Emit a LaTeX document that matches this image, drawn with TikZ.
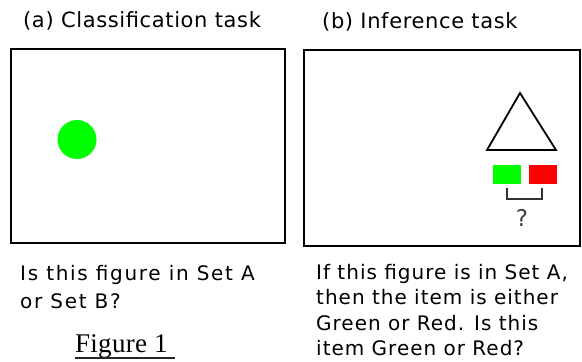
\documentclass[tikz,border=0pt]{standalone}
\usepackage{fontspec}
\setmainfont{Liberation Serif}
\newfontfamily\titlefont[LetterSpace=3]{DejaVu Sans}
\newfontfamily\bodyfont[LetterSpace=5]{DejaVu Sans}
\newfontfamily\bodyfontwide[LetterSpace=8.5]{DejaVu Sans}
\newfontfamily\figfont[LetterSpace=1]{Liberation Serif}
\begin{document}
\begin{tikzpicture}[x=1pt,y=-1pt]
\useasboundingbox[fill=white] (0,0) rectangle (582,362);
\tikzset{
  panel/.style={draw=black, line width=2.2pt},
  lbl/.style={inner sep=0pt, align=left},
  swatch/.style={draw=none, minimum width=28pt, minimum height=19pt, inner sep=0pt}
}
% titles
\node[lbl, anchor=west, font=\titlefont\fontsize{21}{25}\selectfont] (ta) at (23,21) {(a) Classification task};
\node[lbl, anchor=west, font=\titlefont\fontsize{21}{25}\selectfont] (tb) at (322,22) {(b) Inference task};
% panels
\node[panel, minimum width=274pt, minimum height=194pt, anchor=north west, inner sep=0pt] (pa) at (10,48) {};
\node[panel, minimum width=276pt, minimum height=196pt, anchor=north west, inner sep=0pt] (pb) at (303,49) {};
% green circle
\node[circle, fill=green, draw=none, minimum size=39pt, inner sep=0pt] (dot) at (77,139.5) {};
% triangle
\coordinate (apex) at (520,93);
\coordinate (bl) at (487,150);
\coordinate (br) at (556,150);
\draw[line width=1.8pt, line join=miter] (apex) -- (bl) -- (br) -- cycle;
% swatches
\node[swatch, fill=green] (g) at (507,174.5) {};
\node[swatch, fill=red] (r) at (543,174.5) {};
% bracket
\coordinate (b1) at (507,188);
\coordinate (b2) at (507,199);
\coordinate (b3) at (542,199);
\coordinate (b4) at (542,188);
\draw[line width=1.8pt, black!80] (b1) -- (b2) -- (b3) -- (b4);
\node[font=\titlefont\fontsize{23}{25}\selectfont, text=black!75, inner sep=0pt] (q) at (522,218) {?};
% texts
\node[lbl, anchor=north west, font=\bodyfontwide\fontsize{20}{28}\selectfont] (qa) at (20,265) {Is this figure in Set A\\or Set B?};
\node[lbl, anchor=north west, font=\bodyfont\fontsize{20}{25.5}\selectfont] (qb) at (316,264) {If this figure is in Set A,\\then the item is either\\Green or Red. Is this\\item Green or Red?};
\node[font=\figfont\fontsize{27}{30}\selectfont, inner sep=0pt, anchor=base west] (fig) at (75,352) {Figure 1};
\coordinate (ul1) at ([yshift=-6pt]fig.base west);
\coordinate (ul2) at ([xshift=7pt,yshift=-6pt]fig.base east);
\draw[line width=1.8pt, black!85] (ul1) -- (ul2);
\end{tikzpicture}
\end{document}
